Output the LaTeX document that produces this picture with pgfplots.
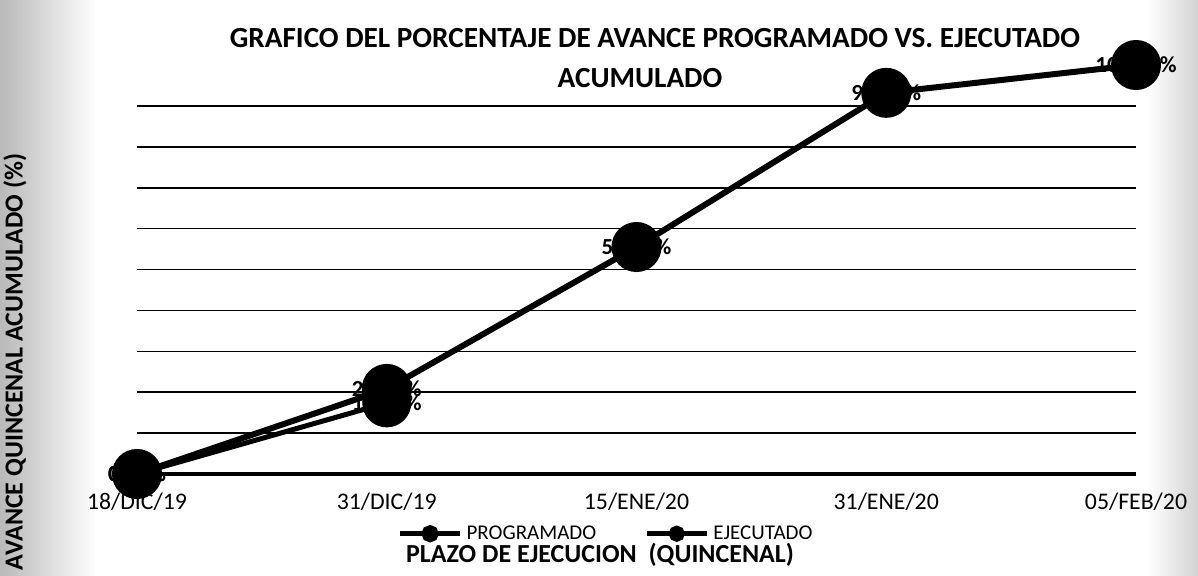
\documentclass[border=0pt]{standalone}
\usepackage{pgfplots}
\pgfplotsset{compat=1.18}
\usepackage{fontspec}
\setmainfont{Carlito}
\begin{document}
\begin{tikzpicture}
\fill[white] (-68.5pt,-50.5pt) rectangle (530.5pt,237pt);
\shade[left color=gray!55, right color=white] (-68.5pt,-50.5pt) rectangle (-20pt,237pt);
\shade[left color=white, right color=gray!35] (505pt,-50.5pt) rectangle (530.5pt,237pt);
\useasboundingbox (-68.5pt,-50.5pt) rectangle (530.5pt,237pt);
\begin{axis}[
  scale only axis, width=499.5pt, height=204.5pt,
  xmin=0, xmax=4, ymin=0, ymax=100,
  clip=false,
  axis line style={draw=none},
  ytick={10,20,...,90}, yticklabels={},
  ymajorgrids, grid style={black, line width=0.8pt},
  extra y ticks={0}, extra y tick labels={},
  extra y tick style={grid style={black, line width=2pt}},
  major tick length=0pt,
  xtick={0,1,2,3,4},
  xticklabels={18/DIC/19,31/DIC/19,15/ENE/20,31/ENE/20,05/FEB/20},
  xticklabel style={anchor=center, yshift=-14pt, font=\fontsize{11.9pt}{13pt}\selectfont},
  legend columns=2,
  legend style={at={(0.4705,-0.146)}, anchor=center, draw=none, fill=none,
    font=\fontsize{10.5pt}{11pt}\selectfont, /tikz/every even column/.append style={column sep=22pt},
    inner sep=0pt},
  legend image code/.code={\draw[line width=2.5pt,black] (0pt,0pt) -- (30pt,0pt); \fill[black] (15pt,0pt) circle (2.8pt);},
  nodes near coords={\pgfplotspointmeta},
  point meta=explicit symbolic,
  nodes near coords align={center},
  every node near coord/.append style={font=\bfseries\fontsize{11.5pt}{12pt}\selectfont, anchor=center, text=black},
]
\addplot[black, line width=3pt, mark=*, mark size=11pt] coordinates {
  (0,0) [0.00\%]
  (1,20.8) [20.80\%]
  (2,55.5) [55.50\%]
  (3,93.2) [93.20\%]
  (4,100) [100.00\%]
};
\addlegendentry{PROGRAMADO}
\addplot[black, line width=2.5pt, mark=*, mark size=11pt] coordinates {
  (0,0) [0.00\%]
  (1,17.4) [17.40\%]
};
\addlegendentry{EJECUTADO}
\end{axis}
\node[font=\bfseries\fontsize{14.6pt}{16pt}\selectfont] at (259pt,218pt) {GRAFICO DEL PORCENTAJE DE AVANCE PROGRAMADO VS. EJECUTADO};
\node[font=\bfseries\fontsize{14.6pt}{16pt}\selectfont] at (251.5pt,198pt) {ACUMULADO};
\node[font=\bfseries\fontsize{13pt}{14pt}\selectfont, rotate=90] at (-61pt,56pt) {AVANCE QUINCENAL ACUMULADO (\%)};
\node[font=\bfseries\fontsize{13pt}{14pt}\selectfont] at (231.5pt,-40.5pt) {PLAZO DE EJECUCION\ \ (QUINCENAL)};
\end{tikzpicture}
\end{document}
